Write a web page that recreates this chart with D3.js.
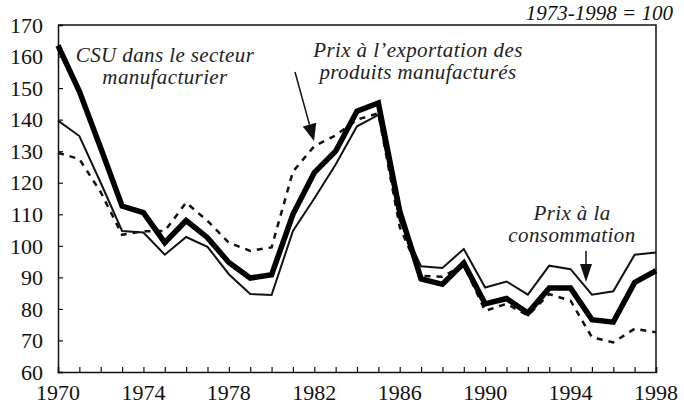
<!DOCTYPE html>
<html>
<head>
<meta charset="utf-8">
<script src="https://cdn.jsdelivr.net/npm/d3@7"></script>
<style>
    body { margin: 0; background: #fff; }
    svg text { font-family: "Liberation Serif", "Times New Roman", serif; fill: #111; }
</style>
</head>
<body>
<svg id="chart" width="684" height="409"></svg>
<script>
var years = d3.range(1970, 1999);

// CSU dans le secteur manufacturier (thick line)
var csu = [163.5, 149, 131, 112.6, 110.5, 101, 108, 102.6, 94.7, 89.8,
    90.8, 110, 123.2, 130, 142.7, 145.3, 111, 89.5, 87.8, 94.5,
    81.6, 83.3, 78.7, 86.6, 86.6, 76.6, 75.8, 88.4, 92.1];

// Prix à la consommation (thin line)
var conso = [139.7, 134.8, 120, 104.7, 104.2, 97.2, 102.8, 99.7, 91, 84.7,
    84.4, 104.7, 115, 125.8, 137.9, 141.5, 108, 93.5, 93, 99,
    86.8, 88.7, 84.5, 93.7, 92.6, 84.5, 85.6, 97.2, 97.9];

// Prix à l'exportation des produits manufacturés (dashed line)
var exportPrix = [129.5, 127.5, 117, 103.5, 104.6, 104.7, 113.7, 107.9, 101, 98.4,
    99.5, 123.5, 131.6, 135, 140, 142, 106, 90.5, 90.2, 94,
    79.4, 81.6, 77.9, 84.7, 82.6, 71, 69.4, 73.7, 72.6];

var yTicks = d3.range(60, 171, 10);
var xLabels = [1970, 1974, 1978, 1982, 1986, 1990, 1994, 1998];

var plotLeft = 58, plotRight = 656, plotTop = 25, plotBottom = 372;

var svg = d3.select("#chart");

var x = d3.scaleLinear().domain([1970, 1998]).range([plotLeft, plotRight]);
var y = d3.scaleLinear().domain([60, 170]).range([plotBottom, plotTop]);

// frame (top and right)
svg.append("path")
    .attr("d", "M" + plotLeft + "," + plotTop + "H" + plotRight + "V" + plotBottom)
    .attr("fill", "none")
    .attr("stroke", "#111")
    .attr("stroke-width", 1.5);

// y axis, ticks pointing inward
var yAxis = svg.append("g")
    .attr("transform", "translate(" + plotLeft + ",0)")
    .call(d3.axisRight(y).tickValues(yTicks).tickSize(5).tickFormat(""));
yAxis.select(".domain").attr("stroke", "#111").attr("stroke-width", 1.5);
yAxis.selectAll(".tick line").attr("stroke", "#111").attr("stroke-width", 1.2);

svg.append("g").selectAll("text")
    .data(yTicks)
    .enter().append("text")
    .attr("x", 43)
    .attr("y", function(d) { return y(d); })
    .attr("dy", "0.35em")
    .attr("text-anchor", "end")
    .style("font-size", "22px")
    .text(function(d) { return d; });

// x axis, ticks pointing up, one per year
var xAxis = svg.append("g")
    .attr("transform", "translate(0," + plotBottom + ")")
    .call(d3.axisTop(x).tickValues(years).tickSize(5).tickFormat(""));
xAxis.select(".domain").attr("stroke", "#111").attr("stroke-width", 1.5);
xAxis.selectAll(".tick line").attr("stroke", "#111").attr("stroke-width", 1.2);

svg.append("g").selectAll("text")
    .data(xLabels)
    .enter().append("text")
    .attr("x", function(d) { return x(d); })
    .attr("y", 400)
    .attr("text-anchor", "middle")
    .style("font-size", "22px")
    .text(function(d) { return d; });

// base note
svg.append("text")
    .attr("x", 673)
    .attr("y", 20)
    .attr("text-anchor", "end")
    .style("font-size", "21px")
    .style("font-style", "italic")
    .text("1973-1998 = 100");

var line = d3.line()
    .x(function(d, i) { return x(years[i]); })
    .y(function(d) { return y(d); });

svg.append("path")
    .datum(exportPrix)
    .attr("d", line)
    .attr("fill", "none")
    .attr("stroke", "#111")
    .attr("stroke-width", 2.5)
    .attr("stroke-dasharray", "6,6");

svg.append("path")
    .datum(conso)
    .attr("d", line)
    .attr("fill", "none")
    .attr("stroke", "#111")
    .attr("stroke-width", 2);

svg.append("path")
    .datum(csu)
    .attr("d", line)
    .attr("fill", "none")
    .attr("stroke", "#000")
    .attr("stroke-width", 5.5);

// annotations
function label(lines, cx, y0) {
    var t = svg.append("text")
        .attr("text-anchor", "middle")
        .style("font-size", "21px")
        .style("font-style", "italic")
        .style("letter-spacing", "0.4px")
        .style("fill", "#222");
    lines.forEach(function(s, i) {
        t.append("tspan").attr("x", cx).attr("y", y0 + i * 22).text(s);
    });
}

function arrow(x1, y1, x2, y2, headLen, headW) {
    var a = Math.atan2(y2 - y1, x2 - x1);
    var bx = x2 - headLen * Math.cos(a), by = y2 - headLen * Math.sin(a);
    var nx = -Math.sin(a) * headW / 2, ny = Math.cos(a) * headW / 2;
    svg.append("line")
        .attr("x1", x1).attr("y1", y1).attr("x2", bx).attr("y2", by)
        .attr("stroke", "#111").attr("stroke-width", 1.5);
    svg.append("path")
        .attr("d", "M" + x2 + "," + y2 + "L" + (bx + nx) + "," + (by + ny) + "L" + (bx - nx) + "," + (by - ny) + "Z")
        .attr("fill", "#111");
}

label(["CSU dans le secteur", "manufacturier"], 165, 62);
label(["Prix à l\u2019exportation des", "produits manufacturés"], 418, 57);
label(["Prix à la", "consommation"], 572, 220);

arrow(295, 72, 314, 141, 17, 14);
arrow(586, 251, 586, 282, 18, 12);
</script>
</body>
</html>
